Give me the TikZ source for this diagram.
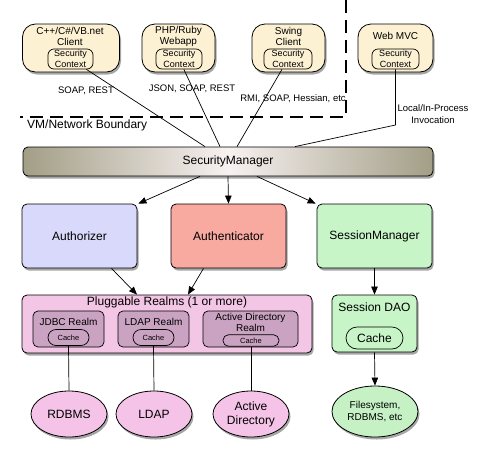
\documentclass[tikz,border=0pt]{standalone}
\usepackage{fontspec}
\setmainfont{Liberation Sans}
\usetikzlibrary{shadows,arrows.meta,shapes.geometric}
\definecolor{cream}{HTML}{FCF1D3}
\definecolor{smside}{HTML}{A39E86}
\definecolor{smmid}{HTML}{F7F1F1}
\definecolor{lav}{HTML}{D9D9FB}
\definecolor{salmon}{HTML}{F8AAA1}
\definecolor{mint}{HTML}{C8F5C8}
\definecolor{pinkbg}{HTML}{F3C6E5}
\definecolor{mauve}{HTML}{C9A3C1}
\definecolor{pinkel}{HTML}{F5C3E7}
\definecolor{mintel}{HTML}{C5F1C5}
\begin{document}
\begin{tikzpicture}[x=1pt,y=-1pt,
  shad/.style={drop shadow={shadow xshift=1.5pt,shadow yshift=-2.5pt,opacity=0.35,fill=black}},
  box/.style={draw=black,line width=0.8pt,rounded corners=5pt,inner sep=0pt,shad},
  client/.style={box,fill=cream,rounded corners=13pt,minimum height=48pt},
  ctx/.style={draw=black,line width=0.7pt,fill=cream,rounded corners=6pt,minimum height=20pt,inner sep=0pt,align=center,font=\fontsize{9}{10.5}\selectfont},
  ctitle/.style={align=center,inner sep=0pt,font=\fontsize{10}{11.5}\selectfont},
  lbl/.style={inner sep=0pt,align=center,font=\fontsize{9.5}{12}\selectfont},
  big/.style={font=\fontsize{12}{14}\selectfont},
  mainbox/.style={box,minimum width=115pt,minimum height=64pt,big},
  realm/.style={draw=black,line width=0.7pt,fill=mauve,rounded corners=5pt,inner sep=0pt,minimum height=36pt},
  rtitle/.style={inner sep=0pt,align=center,font=\fontsize{10}{11}\selectfont},
  cache/.style={draw=black,line width=0.7pt,fill=mauve,rounded corners=8pt,inner sep=0pt,minimum height=16pt,font=\fontsize{7.5}{9}\selectfont},
  store/.style={ellipse,draw=black,line width=0.8pt,inner sep=0pt,minimum width=76pt,minimum height=46pt,align=center,shad,big},
  conn/.style={line width=0.7pt},
  arr/.style={line width=0.7pt,-{Triangle[length=8pt,width=6.5pt]}}
]
\useasboundingbox (0,0) rectangle (480,459);
% clients
\node[client,minimum width=97pt] (c1) at (71,48) {};
\node[client,minimum width=73pt] (c2) at (178.5,48) {};
\node[client,minimum width=73pt] (c3) at (288.5,48) {};
\node[client,minimum width=75pt] (c4) at (395.5,48) {};
\node[ctitle] (c1t) at (70,36.5) {C++/C\#/VB.net\\Client};
\node[ctitle] (c2t) at (178.5,36.5) {PHP/Ruby\\Webapp};
\node[ctitle] (c3t) at (288.5,36.5) {Swing\\Client};
\node[ctitle] (c4t) at (395.5,36) {Web MVC};
\node[ctx,minimum width=45pt] (c1s) at (70.5,59) {Security\\Context};
\node[ctx,minimum width=46pt] (c2s) at (179,59) {Security\\Context};
\node[ctx,minimum width=48pt] (c3s) at (288,59) {Security\\Context};
\node[ctx,minimum width=47pt] (c4s) at (395.5,59) {Security\\Context};
% boundary
\coordinate (bt) at (346,0);
\coordinate (bc) at (346,117);
\coordinate (bl) at (20,117);
\draw[line width=2.6pt,dash pattern=on 13pt off 7pt] (bt) -- (bc) -- (bl);
\node[anchor=west,inner sep=0pt,big] (vmb) at (27,125) {VM/Network Boundary};
% labels
\node[lbl] (l1) at (86,91) {SOAP, REST};
\node[lbl] (l2) at (192,89) {JSON, SOAP, REST};
\node[lbl] (l3) at (293,99) {RMI, SOAP, Hessian, etc};
\node[lbl] (l4) at (433,114) {Local/In-Process\\Invocation};
% security manager
\node[box,minimum width=410pt,minimum height=29pt,big,left color=smside,right color=smside,middle color=smmid] (sm) at (228,161.5) {SecurityManager};
% client connectors
\draw[conn] (c1s) -- ([xshift=-23pt]sm.north);
\draw[conn] (c2s) -- ([xshift=-8pt]sm.north);
\draw[conn] (c3s) -- ([xshift=9pt]sm.north);
\coordinate (wb) at (395.5,125);
\draw[conn] (c4s.south) -- (wb) -- ([xshift=67pt]sm.north);
% main components
\node[mainbox,fill=lav] (az) at (79.5,236) {Authorizer};
\node[mainbox,fill=salmon] (ac) at (228.5,236) {Authenticator};
\node[mainbox,fill=mint] (ss) at (374.5,236) {SessionManager};
\draw[arr] ([xshift=-28pt]sm.south) -- ([xshift=1pt]az.north east);
\draw[arr] (sm.south) -- (ac.north);
\draw[arr] ([xshift=29pt]sm.south) -- ([xshift=-1pt]ss.north west);
% realms
\node[box,fill=pinkbg,minimum width=290pt,minimum height=58pt] (pr) at (167,324) {};
\node[inner sep=0pt,big] (prt) at (167,302) {Pluggable Realms (1 or more)};
\node[realm,minimum width=71pt] (jr) at (68.5,329) {};
\node[realm,minimum width=71pt] (lr) at (153.5,329) {};
\node[realm,minimum width=95pt] (ar) at (250.5,329) {};
\node[rtitle] (jrt) at (68.5,322) {JDBC Realm};
\node[rtitle] (lrt) at (153.5,322) {LDAP Realm};
\node[rtitle] (art) at (250.5,322.5) {Active Directory\\Realm};
\node[cache,minimum width=41pt] (jc) at (68.5,337.5) {Cache};
\node[cache,minimum width=41pt] (lc) at (153.5,337.5) {Cache};
\node[cache,minimum width=56pt,minimum height=11.5pt,rounded corners=5.5pt] (ach) at (251,340.5) {Cache};
\draw[arr] ([xshift=32pt]az.south) -- ([xshift=-30pt]pr.north);
\draw[arr] ([xshift=-25pt]ac.south) -- ([xshift=21pt]pr.north);
% session dao
\node[box,fill=mint,minimum width=85pt,minimum height=57pt] (sd) at (374.5,323.5) {};
\node[inner sep=0pt,big] (sdt) at (374.5,307) {Session DAO};
\node[draw=black,line width=0.7pt,fill=mint,rounded corners=11pt,minimum width=57pt,minimum height=22pt,inner sep=0pt,big] (sc) at (374.5,338) {Cache};
\draw[arr] (ss.south) -- (sd.north);
% stores
\node[store,fill=pinkel] (rdb) at (69,414) {RDBMS};
\node[store,fill=pinkel] (ldp) at (154,414) {LDAP};
\node[store,fill=pinkel] (adr) at (251,414) {Active\\Directory};
\node[store,fill=mintel,minimum width=86pt,minimum height=51pt,font=\fontsize{10}{11.5}\selectfont] (fs) at (375,411.5) {Filesystem,\\RDBMS, etc};
\draw[conn] (jc.south) -- (rdb.north);
\draw[conn] (lc.south) -- (ldp.north);
\draw[conn] (ach.south) -- (adr.north);
\draw[arr] (sd.south) -- (fs.north);
\end{tikzpicture}
\end{document}
